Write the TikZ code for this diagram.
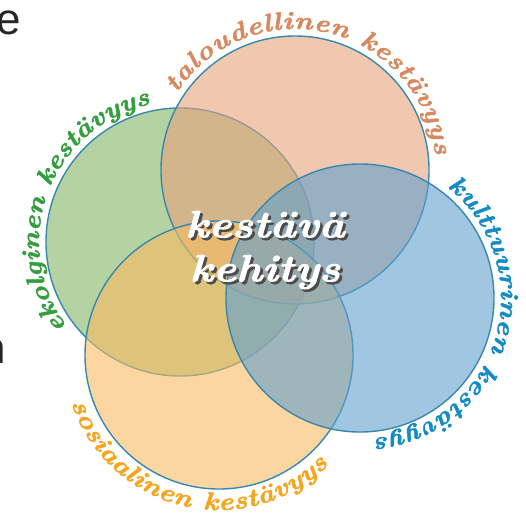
\documentclass[tikz,border=0pt]{standalone}
\usepackage{fontspec}
\usetikzlibrary{decorations.text}

\newfontfamily\fragfont{Liberation Sans}
\newfontface\heavyface{lmroman10-bolditalic.otf}[FakeBold=2, FakeStretch=1.15]
\newcommand{\arcfont}{\heavyface\fontsize{25}{25}\selectfont}

\definecolor{ringline}{RGB}{55,135,175}
\definecolor{peachfill}{RGB}{230,163,122}
\definecolor{greenfill}{RGB}{130,180,100}
\definecolor{bluefill}{RGB}{97,160,207}
\definecolor{orangefill}{RGB}{250,187,97}
\definecolor{peachtext}{RGB}{215,138,95}
\definecolor{greentext}{RGB}{50,158,62}
\definecolor{bluetext}{RGB}{20,140,195}
\definecolor{orangetext}{RGB}{245,165,30}

\begin{document}
\begin{tikzpicture}[
  x=1pt, y=1pt,
  ring/.style={circle, draw=ringline, line width=1.4pt, fill opacity=0.6, minimum size=268pt, inner sep=0pt},
  textarc/.style={decorate, decoration={text along path, text align={fit to path}}},
  title/.style={align=center, inner sep=0pt, font=\heavyface\fontsize{38}{44}\selectfont},
  fragment/.style={inner sep=0pt, anchor=base west, text=black!85, font=\fragfont\fontsize{44}{44}\selectfont}
]
  \useasboundingbox (0,0) rectangle (526,515);

  % Neljä ympyrää
  \node[ring, fill=greenfill] (ekologia) at (180,273) {};
  \node[ring, fill=peachfill] (talous) at (295,345) {};
  \node[ring, fill=orangefill] (sosiaali) at (219,160) {};
  \node[ring, fill=bluefill] (kulttuuri) at (360,217) {};

  % Kaarevat tekstit
  \path[textarc, decoration={text={|\arcfont\color{peachtext}|taloudellinen kestävyys}}]
    ([shift={(147:141)}]talous.center) arc[start angle=147, end angle=6, radius=141];
  \path[textarc, decoration={text={|\arcfont\color{greentext}|ekolginen kestävyys}}]
    ([shift={(217:141)}]ekologia.center) arc[start angle=217, end angle=102, radius=141];
  \path[textarc, decoration={text={|\arcfont\color{bluetext}|kulttuurinen kestävyys}}]
    ([shift={(52:141)}]kulttuuri.center) arc[start angle=52, end angle=-84, radius=141];
  \path[textarc, decoration={text={|\arcfont\color{orangetext}|sosiaalinen kestävyys}}]
    ([shift={(198:155)}]sosiaali.center) arc[start angle=198, end angle=315, radius=155];

  % Keskiteksti varjolla
  \coordinate (middle) at (265,265);
  \node[title, text=black!70] (shadow) at ([shift={(2.5,-2.5)}]middle) {kestävä\\kehitys};
  \node[title, text=white] (centre) at (middle) {kestävä\\kehitys};

  % Reunan katkenneet kirjaimet
  \node[fragment] (frage) at (-4,480) {e};
  \node[fragment] (fragn) at (-19,152) {n};

\end{tikzpicture}
\end{document}
